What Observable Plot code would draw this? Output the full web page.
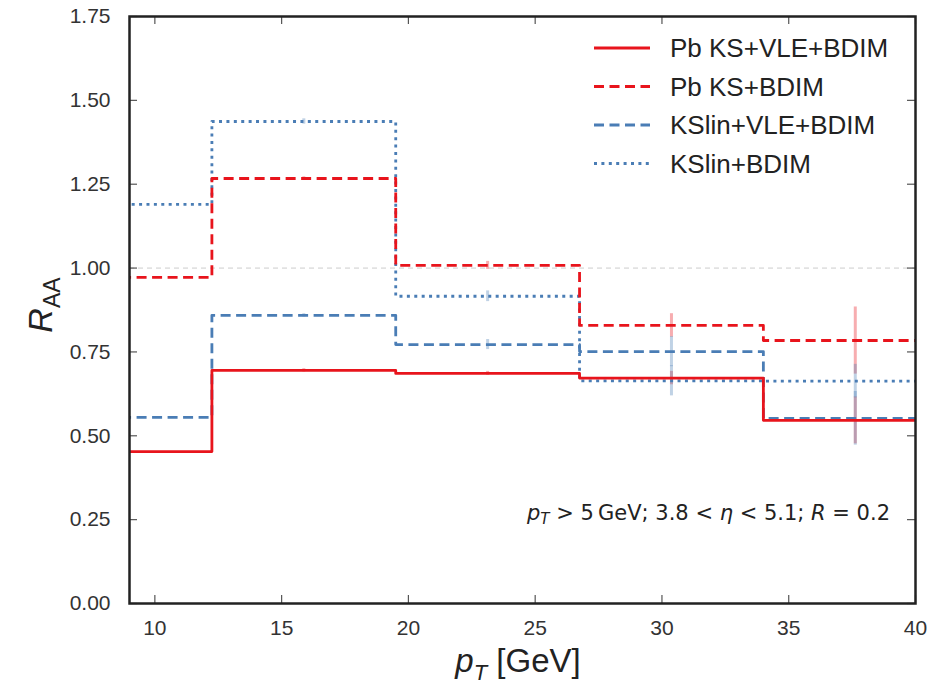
<!DOCTYPE html>
<html><head><meta charset="utf-8">
<script src="https://cdn.jsdelivr.net/npm/d3@7"></script>
<script src="https://cdn.jsdelivr.net/npm/@observablehq/plot@0.6"></script>
<style>body{margin:0;background:#fff} svg{display:block}</style>
</head><body><div id="chart"></div>
<script>
// ---- data ----
const binEdges = [5, 12.25, 19.5, 26.75, 34, 41.25];
const binCenters = [8.625, 15.875, 23.125, 30.375, 37.625];
const seriesNames = ["Pb KS+VLE+BDIM", "Pb KS+BDIM", "KSlin+VLE+BDIM", "KSlin+BDIM"];
const pbKsVle = [0.453, 0.695, 0.686, 0.672, 0.546];
const pbKs = [0.972, 1.267, 1.008, 0.829, 0.784];
const kslinVle = [0.555, 0.859, 0.772, 0.751, 0.552];
const kslin = [1.190, 1.437, 0.916, 0.664, 0.663];
const pbKsVleErr = [0.01, 0.005, 0.006, 0.02, 0.07];
const pbKsErr = [0.01, 0.005, 0.012, 0.035, 0.10];
const kslinVleErr = [0.01, 0.005, 0.015, 0.045, 0.08];
const kslinErr = [0.01, 0.008, 0.016, 0.045, 0.05];
const xTicks = [10, 15, 20, 25, 30, 35, 40];
const yTicks = [0, 0.25, 0.5, 0.75, 1.0, 1.25, 1.5, 1.75];
const refLine = [1.0];

const red = "#e8141c", blue = "#4a7db5";
const styles = [
  {color: red, dash: null},
  {color: red, dash: "10,5.5"},
  {color: blue, dash: "10,5.5"},
  {color: blue, dash: "3,4.4"}
];
const values = [pbKsVle, pbKs, kslinVle, kslin];
const errs = [pbKsVleErr, pbKsErr, kslinVleErr, kslinErr];

const W = 946, H = 684, mT = 16, mB = 81, mL = 129, mR = 31;
const innerH = H - mT - mB, innerW = W - mL - mR, tickLen = 8;

function stepData(v) {
  const pts = v.map((y, i) => ({x: binEdges[i], y}));
  pts.push({x: binEdges[binEdges.length - 1], y: v[v.length - 1]});
  return pts;
}
function errData(v, e) {
  return v.map((y, i) => ({x: binCenters[i], lo: y - e[i], hi: y + e[i]}));
}

const marks = [
  Plot.ruleY(refLine, {stroke: "#cccccc", strokeWidth: 1, strokeDasharray: "5,4"})
];
values.forEach((v, k) => {
  marks.push(Plot.ruleX(errData(v, errs[k]), {x: "x", y1: "lo", y2: "hi", stroke: styles[k].color, strokeOpacity: 0.35, strokeWidth: 3, clip: true}));
});
[3, 2, 1, 0].forEach(k => {
  marks.push(Plot.line(stepData(values[k]), {x: "x", y: "y", curve: "step-after", stroke: styles[k].color, strokeWidth: 2.8, strokeDasharray: styles[k].dash, strokeLinecap: "butt", clip: true}));
});
const tickStyle = {stroke: "#555", strokeWidth: 1.2};
marks.push(
  Plot.axisX({anchor: "bottom", ticks: xTicks, tickSize: 0, tickPadding: 17, fontSize: 21, fill: "#333", label: null}),
  Plot.axisY({anchor: "left", ticks: yTicks, tickSize: 0, tickPadding: 19, fontSize: 21, fill: "#333", tickFormat: d3.format(".2f"), label: null}),
  Plot.tickX(xTicks, {x: d => d, insetTop: innerH - tickLen, ...tickStyle}),
  Plot.tickX(xTicks, {x: d => d, insetBottom: innerH - tickLen, ...tickStyle}),
  Plot.tickY(yTicks, {y: d => d, insetRight: innerW - tickLen, ...tickStyle}),
  Plot.tickY(yTicks, {y: d => d, insetLeft: innerW - tickLen, ...tickStyle}),
  Plot.frame({stroke: "#222", strokeWidth: 2.5})
);

const svg = Plot.plot({
  width: W, height: H,
  marginTop: mT, marginBottom: mB, marginLeft: mL, marginRight: mR,
  style: {fontFamily: "'Liberation Sans', Arial, sans-serif", background: "#fff"},
  x: {domain: [9, 40]},
  y: {domain: [0, 1.75]},
  marks
});
document.getElementById("chart").appendChild(svg);

const s = d3.select(svg);
const ff = "'Liberation Sans', Arial, sans-serif";
// legend
const leg = s.append("g");
seriesNames.forEach((name, k) => {
  const y = 48 + k * 38.5;
  leg.append("line").attr("x1", 594).attr("x2", 650).attr("y1", y).attr("y2", y)
    .attr("stroke", styles[k].color).attr("stroke-width", 2.8)
    .attr("stroke-dasharray", styles[k].dash);
  leg.append("text").attr("x", 670).attr("y", y).attr("dy", "0.35em").attr("text-anchor", "start")
    .attr("font-family", ff).attr("font-size", 26).attr("fill", "#222").text(name);
});
// x label
const xl = s.append("text").attr("x", 518).attr("y", 672).attr("text-anchor", "middle")
  .attr("font-family", ff).attr("font-size", 33).attr("fill", "#222");
xl.append("tspan").attr("font-style", "italic").text("p");
xl.append("tspan").attr("font-style", "italic").attr("font-size", 22).attr("dy", 8).text("T");
xl.append("tspan").attr("dy", -8).text(" [GeV]");
// y label
const yl = s.append("text").attr("transform", "translate(52,305) rotate(-90)").attr("text-anchor", "middle")
  .attr("font-family", ff).attr("font-size", 34).attr("fill", "#222");
yl.append("tspan").attr("font-style", "italic").text("R");
yl.append("tspan").attr("font-size", 23).attr("dy", 8).text("AA");
// annotation
const an = s.append("text").attr("x", 890).attr("y", 520).attr("text-anchor", "end")
  .attr("font-family", "'DejaVu Sans', sans-serif").attr("font-size", 21).attr("fill", "#222");
an.append("tspan").attr("font-style", "italic").text("p");
an.append("tspan").attr("font-style", "italic").attr("font-size", 15).attr("dy", 4).text("T");
an.append("tspan").attr("dy", -4).text(" > 5\u2009GeV; 3.8 < ");
an.append("tspan").attr("font-style", "italic").text("η");
an.append("tspan").text(" < 5.1; ");
an.append("tspan").attr("font-style", "italic").text("R");
an.append("tspan").text(" = 0.2");
</script></body></html>
